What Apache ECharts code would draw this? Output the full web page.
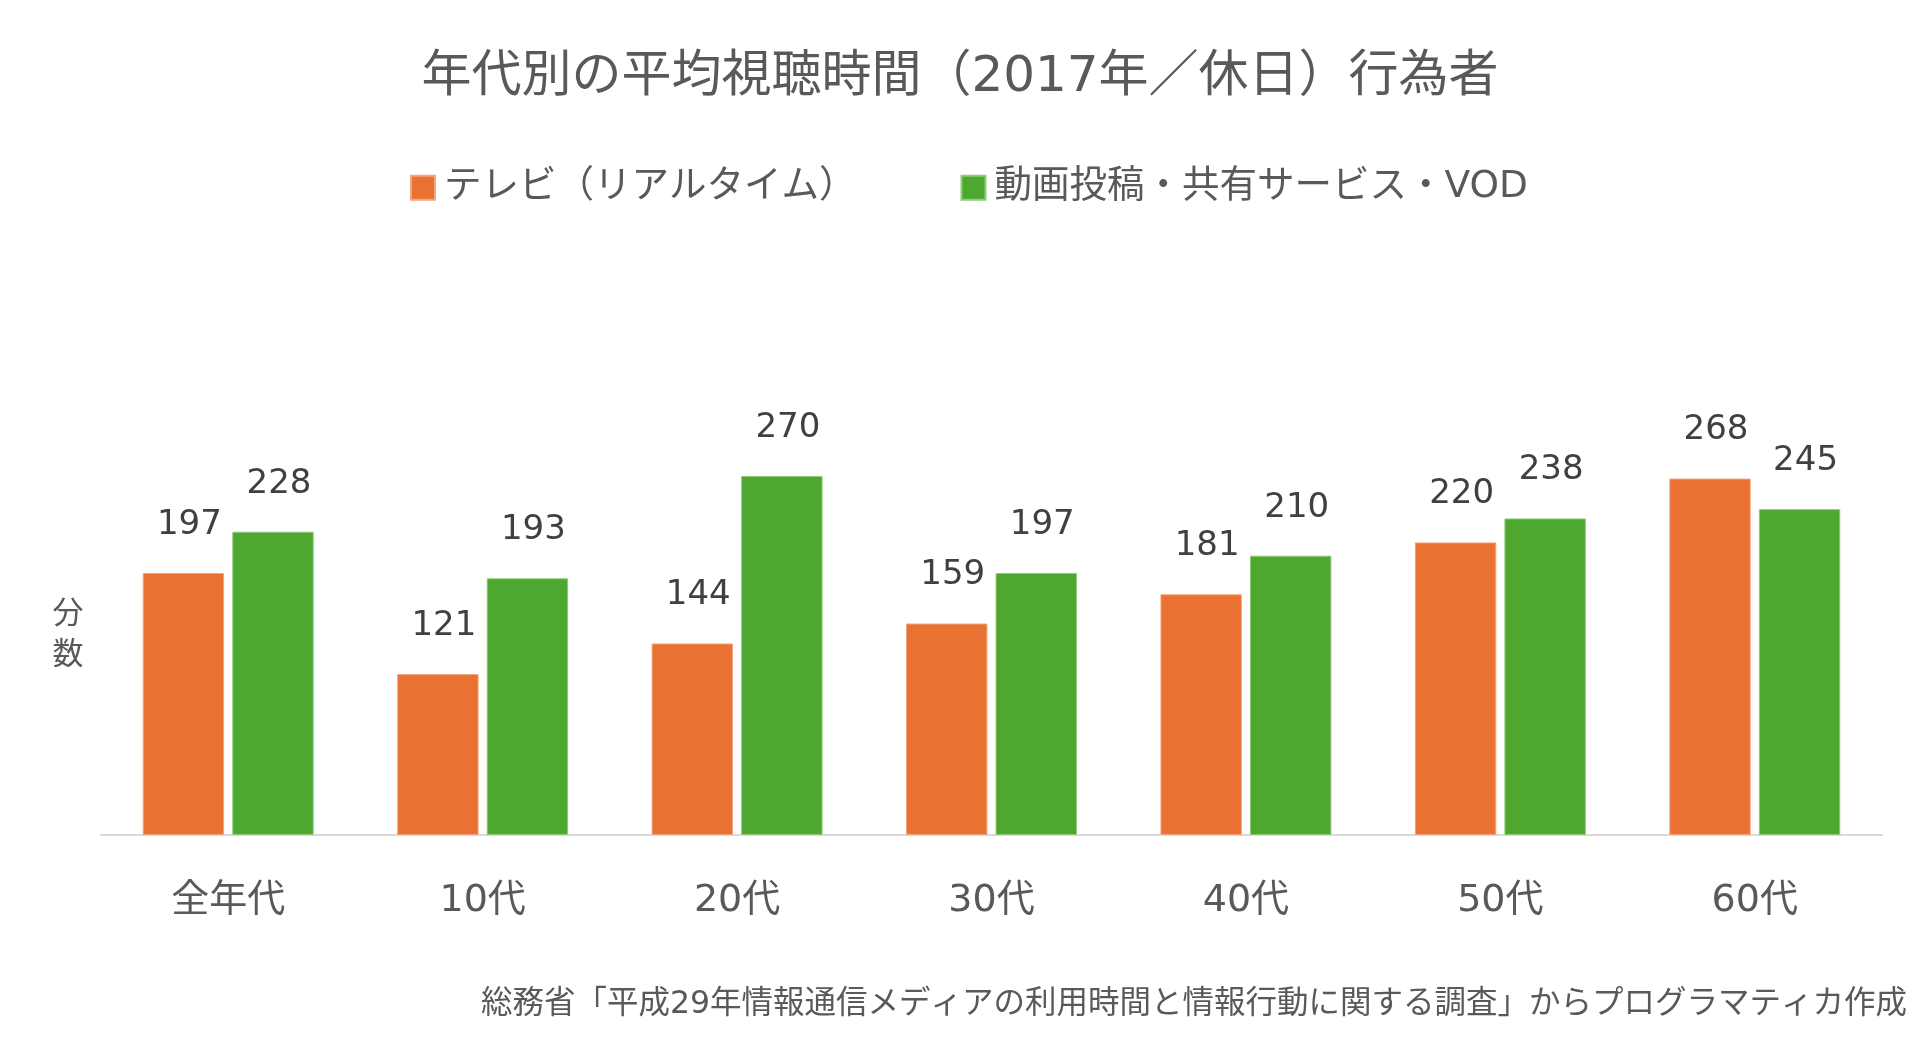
<!DOCTYPE html>
<html><head><meta charset="utf-8">
<script src="https://cdn.jsdelivr.net/npm/echarts@6/dist/echarts.min.js"></script>
<style>html,body{margin:0;padding:0;background:#fff}#c{width:1920px;height:1053px}</style>
</head><body><div id="c"></div>
<script>
const categories = ['全年代', '10代', '20代', '30代', '40代', '50代', '60代'];
const tvValues = [197, 121, 144, 159, 181, 220, 268];
const vodValues = [228, 193, 270, 197, 210, 238, 245];
const seriesNames = ['テレビ（リアルタイム）', '動画投稿・共有サービス・VOD'];
const titleText = '年代別の平均視聴時間（2017年／休日）行為者';
const sourceText = '総務省「平成29年情報通信メディアの利用時間と情報行動に関する調査」からプログラマティカ作成';
const yName = '分\n数';

const FF = '"DejaVu Sans", "Noto Sans CJK JP", sans-serif';
const chart = echarts.init(document.getElementById('c'), null, {renderer: 'canvas'});
const labelCfg = {
  show: true, position: 'top', distance: 31, offset: [6, 0],
  color: '#404040', fontSize: 34, fontFamily: FF
};
chart.setOption({
  animation: false,
  backgroundColor: '#ffffff',
  title: [{
    text: titleText, left: 'center', top: 53, padding: 0,
    textStyle: {color: '#595959', fontSize: 50, fontWeight: 'normal', fontFamily: FF, lineHeight: 50}
  }, {
    text: sourceText, right: 13, top: 989, padding: 0,
    textStyle: {color: '#595959', fontSize: 31.5, fontWeight: 'normal', fontFamily: FF, lineHeight: 32}
  }],
  legend: {
    data: seriesNames, left: 410, top: 169, padding: 0,
    icon: 'rect', itemWidth: 24, itemHeight: 24, itemGap: 104,
    textStyle: {color: '#595959', fontSize: 37.5, fontFamily: FF, padding: [0, 0, 0, 4]}
  },
  grid: {left: 101, right: 38, top: 436, bottom: 218, containLabel: false},
  xAxis: {
    type: 'category', data: categories,
    axisLine: {show: true, lineStyle: {color: '#D9D9D9', width: 2}},
    axisTick: {show: false},
    axisLabel: {color: '#595959', fontSize: 38, fontFamily: FF, margin: 47}
  },
  yAxis: {
    type: 'value', min: 0, max: 300,
    axisLabel: {show: false}, splitLine: {show: false}, axisLine: {show: false}, axisTick: {show: false},
    name: yName, nameLocation: 'middle', nameRotate: 0, nameGap: 33,
    nameTextStyle: {color: '#595959', fontSize: 31, fontFamily: FF, lineHeight: 41, align: 'center', verticalAlign: 'middle', padding: [24, 0, 0, 0]}
  },
  series: [{
    name: seriesNames[0], type: 'bar', data: tvValues,
    barWidth: '32%', barGap: '10%',
    itemStyle: {color: '#E97132', borderColor: '#F3A57E', borderWidth: 1},
    label: labelCfg
  }, {
    name: seriesNames[1], type: 'bar', data: vodValues,
    barWidth: '32%', barGap: '10%',
    itemStyle: {color: '#4EA72E', borderColor: '#8FCB78', borderWidth: 1},
    label: labelCfg
  }]
});
</script></body></html>
